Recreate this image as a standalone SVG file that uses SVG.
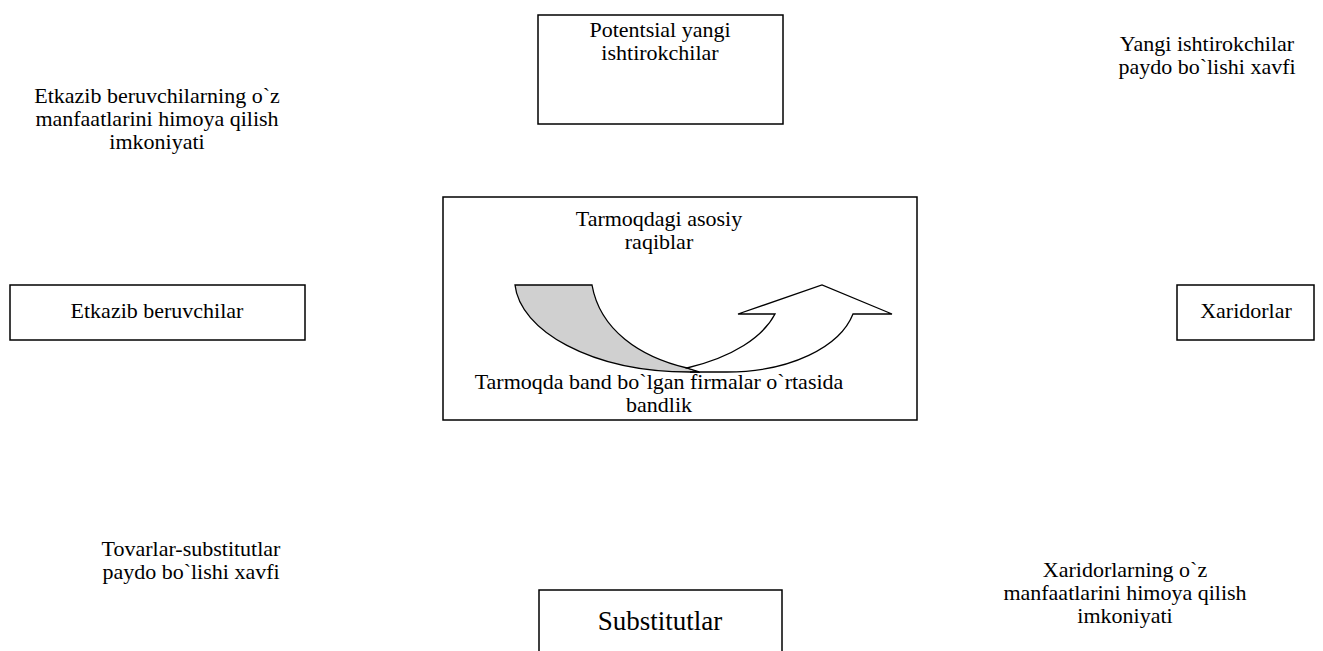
<svg xmlns="http://www.w3.org/2000/svg" width="1323" height="651" viewBox="0 0 1323 651">
<style>
.box{fill:#fff;stroke:#000;stroke-width:1.5}
text{font-family:"Liberation Serif","Times New Roman","DejaVu Serif",serif;font-size:22px;fill:#000;text-anchor:middle}
.big{font-size:27px}
.arr{stroke:#000;stroke-width:1.3;stroke-linejoin:miter}
</style>
<rect width="1323" height="651" fill="#fff"/>
<g id="node-potential">
<rect class="box" x="538" y="15" width="245" height="109"/>
<text x="660" y="37">Potentsial yangi</text>
<text x="660" y="60">ishtirokchilar</text>
</g>
<g id="label-suppliers-power">
<text x="157" y="103">Etkazib beruvchilarning o`z</text>
<text x="157" y="126">manfaatlarini himoya qilish</text>
<text x="157" y="149">imkoniyati</text>
</g>
<g id="label-new-threat">
<text x="1207" y="51">Yangi ishtirokchilar</text>
<text x="1207" y="74">paydo bo`lishi xavfi</text>
</g>
<g id="node-center">
<rect class="box" x="443" y="197" width="474" height="223"/>
<text x="659" y="226">Tarmoqdagi asosiy</text>
<text x="659" y="249">raqiblar</text>
<text x="659" y="389">Tarmoqda band bo`lgan firmalar o`rtasida</text>
<text x="659" y="412">bandlik</text>
</g>
<g id="node-suppliers">
<rect class="box" x="10" y="285" width="295" height="55"/>
<text x="157" y="318">Etkazib beruvchilar</text>
</g>
<g id="node-buyers">
<rect class="box" x="1177" y="285" width="137" height="55"/>
<text x="1246" y="318">Xaridorlar</text>
</g>
<g id="label-substitute-threat">
<text x="191" y="556">Tovarlar-substitutlar</text>
<text x="191" y="579">paydo bo`lishi xavfi</text>
</g>
<g id="label-buyers-power">
<text x="1125" y="577">Xaridorlarning o`z</text>
<text x="1125" y="600">manfaatlarini himoya qilish</text>
<text x="1125" y="623">imkoniyati</text>
</g>
<g id="node-substitutes">
<rect class="box" x="539" y="590" width="243" height="70"/>
<text class="big" x="660" y="630">Substitutlar</text>
</g>
<g id="connectors">
<path class="arr" fill="#d0d0d0" d="M515,285 L592,285 C600,330 640,357 687,368 L700,372 L690,372 C590,372 520,330 515,285 Z"/>
<path class="arr" fill="#fff" d="M687,368 C733,357 763,337 775,314 L738,314 L822,285 L892,314 L853,314 C840,347 790,372 727,372 L690,372 L700,372 Z"/>
</g>
</svg>
